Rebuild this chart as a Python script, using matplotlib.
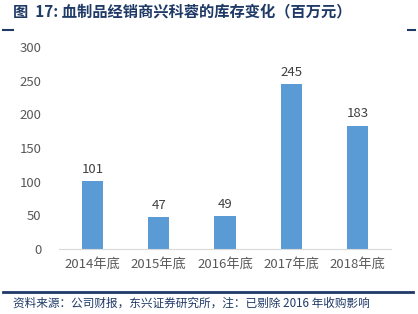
import matplotlib
matplotlib.use('Agg')
import matplotlib.pyplot as plt
from matplotlib.lines import Line2D

plt.rcParams['font.family'] = ['Noto Sans CJK SC', 'DejaVu Sans']

categories = ['2014年底', '2015年底', '2016年底', '2017年底', '2018年底']
inventory = [101, 47, 49, 245, 183]
yticks = [0, 50, 100, 150, 200, 250, 300]

title = '图  17: 血制品经销商兴科蓉的库存变化（百万元）'
source = '资料来源：公司财报，东兴证券研究所，注：已剔除 2016 年收购影响'

navy = '#1F3A66'
bar_color = '#5B9BD5'
grey = '#595959'

fig = plt.figure(figsize=(4.18, 3.14), dpi=100)
fig.set_facecolor('white')
ax = fig.add_axes([0.142, 0.207, 0.793, 0.643])

x = range(len(categories))
bars = ax.bar(x, inventory, width=0.32, color=bar_color, zorder=2)
for xi, v in zip(x, inventory):
    ax.text(xi, v + 8, str(v), ha='center', va='bottom', fontsize=9.5, color='#404040')

ax.set_xlim(-0.5, len(categories) - 0.5)
ax.set_ylim(0, 300)
ax.set_yticks(yticks)
ax.set_xticks(list(x))
ax.set_xticklabels(categories)
ax.tick_params(axis='both', length=0, labelsize=9.5, colors=grey)
ax.tick_params(axis='y', pad=13)
ax.tick_params(axis='x', pad=6)
for s in ['top', 'right', 'left']:
    ax.spines[s].set_visible(False)
ax.spines['bottom'].set_color('#D9D9D9')

fig.text(0.03, 0.962, title, fontsize=11, fontweight='bold', color=navy, va='center')
fig.add_artist(Line2D([0.007, 0.03], [0.905, 0.905], color=navy, lw=1.5))
fig.add_artist(Line2D([0.977, 0.993], [0.905, 0.905], color=navy, lw=1.5))
fig.add_artist(Line2D([0.007, 0.988], [0.07, 0.07], color=navy, lw=2))
fig.text(0.03, 0.035, source, fontsize=8.4, color=navy, va='center', style='italic')

fig.savefig('out.png', dpi=100)
